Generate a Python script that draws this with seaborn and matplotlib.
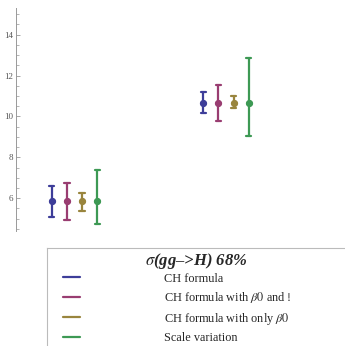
import numpy as np
import pandas as pd
import matplotlib
matplotlib.use("Agg")
import matplotlib.pyplot as plt
from matplotlib.lines import Line2D
from matplotlib.ticker import MultipleLocator
import seaborn as sns

# values
GROUPS = ["set 1", "set 2"]
SERIES = ["CH formula", "CH formula with $\\beta0$ and !",
          "CH formula with only $\\beta0$", "Scale variation"]
CENTER = [5.85, 10.68]
LOW = [[5.10, 4.94, 5.40, 4.73],
       [10.18, 9.80, 10.39, 9.06]]
HIGH = [[6.58, 6.75, 6.26, 7.40],
        [11.17, 11.56, 10.98, 12.85]]
COLORS = ["#3d3d99", "#993d71", "#99853d", "#3d9954"]
YTICKS = [6, 8, 10, 12, 14]
TITLE = "$\\sigma$(gg\u2013>H) 68%"

rows = []
for g, grp in enumerate(GROUPS):
    for s, name in enumerate(SERIES):
        for v in (LOW[g][s], CENTER[g], HIGH[g][s]):
            rows.append({"group": grp, "series": name, "value": v})
df = pd.DataFrame(rows)

sns.set_style("white")
plt.rcParams["font.family"] = ["Liberation Serif", "DejaVu Serif"]
plt.rcParams["mathtext.fontset"] = "stix"

fig = plt.figure(figsize=(3.45, 3.46), dpi=100)
ax = fig.add_axes([16 / 345, 115 / 346, 329 / 345, 223 / 346])

sns.pointplot(data=df, x="group", y="value", hue="series", order=GROUPS,
              hue_order=SERIES, palette=COLORS, estimator="median",
              errorbar=lambda x: (x.min(), x.max()), dodge=0.3,
              linestyle="none", markers="o", markersize=3.2, err_kws={"linewidth": 1.6},
              capsize=0.035, legend=False, ax=ax)

ax.set_xlim(-0.386, 1.785)
ax.set_ylim(4.4, 15.3)
ax.set_xlabel("")
ax.set_ylabel("")
ax.set_xticks([])
ax.yaxis.set_minor_locator(MultipleLocator(0.5))
ax.set_yticks(YTICKS)
ax.tick_params(axis="y", which="major", direction="in", length=3, width=0.6,
               color="#999999", labelcolor="#555555", labelsize=6.5, pad=2, left=True)
ax.tick_params(axis="y", which="minor", direction="in", length=1.8, width=0.5,
               color="#999999", left=True)
for side in ["top", "right", "bottom"]:
    ax.spines[side].set_visible(False)
ax.spines["left"].set_color("#999999")
ax.spines["left"].set_linewidth(0.7)

# legend box
lax = fig.add_axes([46.7 / 345, -0.05, 1.0, (346 - 248) / 346 + 0.05])
lax.set_xticks([])
lax.set_yticks([])
for sp in lax.spines.values():
    sp.set_color("#bbbbbb")
    sp.set_linewidth(0.8)
lax.patch.set_alpha(0)

fig.text(196 / 345, 1 - 260.7 / 346, TITLE, ha="center", va="center",
         fontsize=12, fontweight="bold", fontstyle="italic")

handles = [Line2D([0], [0], color=c, lw=1.6) for c in COLORS]
leg = fig.legend(handles, SERIES, loc="upper left",
                 bbox_to_anchor=(63 / 345, 1 - 272.5 / 346), frameon=False,
                 borderpad=0, borderaxespad=0,
                 fontsize=8.8, handlelength=1.4, handletextpad=6.9,
                 labelspacing=0.46)

fig.savefig("out.png", dpi=100)
